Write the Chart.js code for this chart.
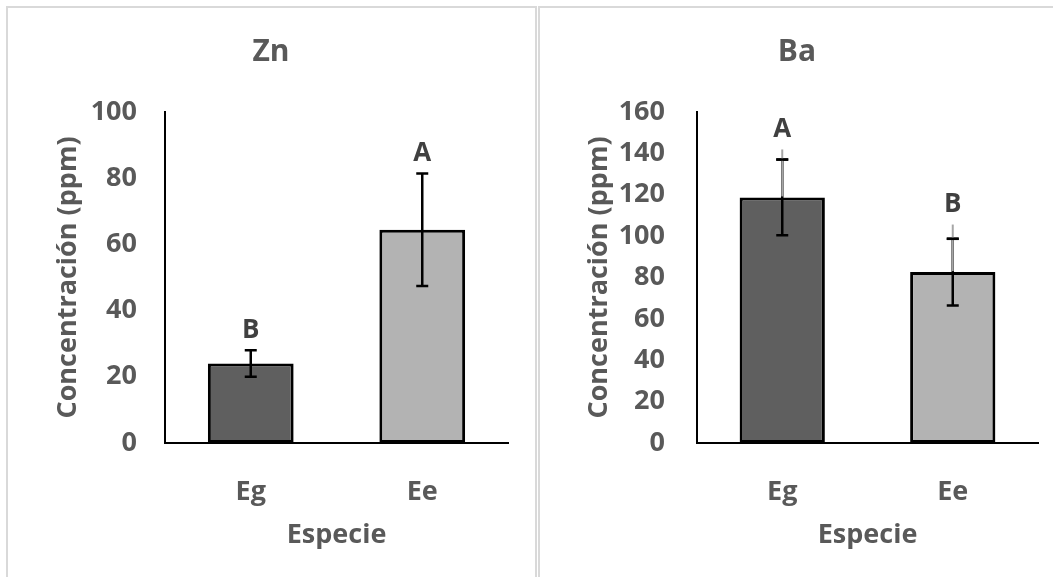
<!DOCTYPE html>
<html>
<head>
<meta charset="utf-8">
<script src="https://cdn.jsdelivr.net/npm/chart.js@4.4.0/dist/chart.umd.min.js"></script>
<style>
  body { margin: 0; background: #fff; width: 1053px; height: 577px; overflow: hidden; position: relative; }
  .panel { position: absolute; top: 6px; height: 620px; border: 2px solid #d9d9d9; box-sizing: border-box; }
  canvas { position: absolute; top: 0; }
</style>
</head>
<body>
<div class="panel" style="left:6px;width:531px"></div>
<div class="panel" style="left:538px;width:530px"></div>
<canvas id="zn" width="537" height="577" style="left:0"></canvas>
<canvas id="ba" width="516" height="577" style="left:537px"></canvas>
<script>
const categories = ['Eg', 'Ee'];
const barColors = ['#5f5f5f', '#b3b3b3'];

const znMeans = [24.0, 64.4];
const znErr = [4.0, 17.0];
const znLetters = ['B', 'A'];
const znMax = 100;

const baMeans = [118.7, 82.6];
const baErr = [18.3, 16.1];
const baErrHi = [23.2, 23.0]; // thin gray upper bar
const baLetters = ['A', 'B'];
const baMax = 160;

const textColor = '#595959';
Chart.defaults.font.family = "'Open Sans', sans-serif";
Chart.defaults.font.weight = 'bold';

const errorBars = {
  id: 'errorBars',
  afterDatasetsDraw(chart, args, opts) {
    const ctx = chart.ctx;
    const y = chart.scales.y;
    const meta = chart.getDatasetMeta(0);
    ctx.save();
    meta.data.forEach((bar, i) => {
      const cx = bar.x;
      const m = opts.means[i];
      const top = y.getPixelForValue(m + opts.err[i]);
      const bot = y.getPixelForValue(m - opts.err[i]);
      ctx.strokeStyle = '#000';
      ctx.lineWidth = 2.5;
      ctx.beginPath();
      ctx.moveTo(cx, top); ctx.lineTo(cx, bot);
      ctx.moveTo(cx - 6, top); ctx.lineTo(cx + 6, top);
      ctx.moveTo(cx - 6, bot); ctx.lineTo(cx + 6, bot);
      ctx.stroke();
      let hi = top;
      if (opts.upper) {
        const gTop = y.getPixelForValue(m + opts.upper[i]);
        ctx.strokeStyle = '#a6a6a6';
        ctx.lineWidth = 2;
        ctx.beginPath();
        ctx.moveTo(cx, y.getPixelForValue(m) - 1); ctx.lineTo(cx, gTop);
        ctx.stroke();
        ctx.strokeStyle = '#000';
        ctx.lineWidth = 2.5;
        ctx.beginPath();
        ctx.moveTo(cx - 6, top); ctx.lineTo(cx + 6, top);
        ctx.stroke();
        hi = Math.min(hi, gTop);
      }
      ctx.fillStyle = '#404040';
      ctx.font = "bold 26px 'Open Sans'";
      ctx.textAlign = 'center';
      ctx.textBaseline = 'middle';
      ctx.fillText(opts.letters[i], cx, hi - 20);
    });
    ctx.fillStyle = textColor;
    ctx.font = "bold 30px 'Open Sans'";
    ctx.textAlign = 'center';
    ctx.textBaseline = 'middle';
    ctx.fillText(opts.title, opts.titleX, 52);
    ctx.restore();
  }
};

function makeChart(id, title, titleX, means, err, upper, letters, yMax, yWidth, tickPad, yTitlePad, padRight) {
  const font = { family: "'Open Sans'", size: 27, weight: 'bold' };
  new Chart(document.getElementById(id), {
    type: 'bar',
    data: {
      labels: categories,
      datasets: [{
        data: means,
        backgroundColor: barColors,
        borderColor: '#000',
        borderWidth: 3,
        borderSkipped: false,
        categoryPercentage: 1,
        barPercentage: 0.5
      }]
    },
    options: {
      responsive: false,
      animation: false,
      layout: { padding: { top: 112, right: padRight, left: 0, bottom: 0 } },
      plugins: {
        legend: { display: false },
        tooltip: { enabled: false },
        errorBars: { title, titleX, means, err, upper, letters }
      },
      scales: {
        x: {
          grid: { display: false, drawTicks: false },
          border: { display: true, color: '#000', width: 2 },
          ticks: { color: textColor, font, padding: 33 },
          title: { display: true, text: 'Especie', color: textColor, font, padding: { bottom: 25 } },
          afterFit(s) { s.height = 134; }
        },
        y: {
          min: 0, max: yMax,
          grid: { display: false, drawTicks: false },
          border: { display: true, color: '#000', width: 2 },
          ticks: { stepSize: 20, color: textColor, font, padding: tickPad },
          title: { display: true, text: 'Concentración (ppm)', color: textColor, font, padding: { top: yTitlePad } },
          afterFit(s) { s.width = yWidth; }
        }
      }
    },
    plugins: [errorBars]
  });
}

makeChart('zn', 'Zn', 271, znMeans, znErr, null, znLetters, znMax, 165, 28, 52, 29);
makeChart('ba', 'Ba', 260, baMeans, baErr, baErrHi, baLetters, baMax, 160, 32, 46, 15);
</script>
</body>
</html>
